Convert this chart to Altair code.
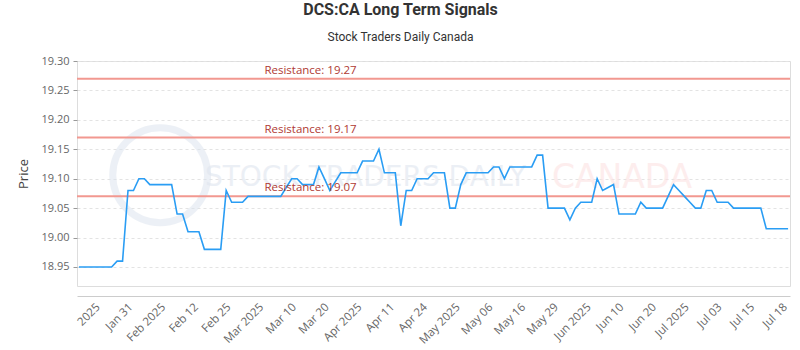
import altair as alt
import pandas as pd

# ---- data -------------------------------------------------------------
prices = [
    18.95, 18.95, 18.95, 18.95, 18.95, 18.95, 18.95,
    18.96, 18.96,
    19.08, 19.08,
    19.10, 19.10,
    19.09, 19.09, 19.09, 19.09, 19.09,
    19.04, 19.04,
    19.01, 19.01, 19.01,
    18.98, 18.98, 18.98, 18.98,
    19.08,
    19.06, 19.06, 19.06,
    19.07, 19.07, 19.07, 19.07, 19.07, 19.07, 19.07,
    19.085,
    19.10, 19.10,
    19.09, 19.09, 19.09,
    19.12, 19.10, 19.08, 19.095,
    19.11, 19.11, 19.11, 19.11,
    19.13, 19.13, 19.13,
    19.15,
    19.11, 19.11, 19.11,
    19.02,
    19.08, 19.08,
    19.10, 19.10, 19.10,
    19.11, 19.11, 19.11,
    19.05, 19.05,
    19.09,
    19.11, 19.11, 19.11, 19.11, 19.11,
    19.12, 19.12,
    19.10,
    19.12, 19.12, 19.12, 19.12, 19.12,
    19.14, 19.14,
    19.05, 19.05, 19.05, 19.05,
    19.03,
    19.05,
    19.06, 19.06, 19.06,
    19.10, 19.08, 19.085, 19.09,
    19.04, 19.04, 19.04, 19.04,
    19.06,
    19.05, 19.05, 19.05, 19.05,
    19.07, 19.09, 19.08, 19.07, 19.06,
    19.05, 19.05,
    19.08, 19.08,
    19.06, 19.06, 19.06,
    19.05, 19.05, 19.05, 19.05, 19.05, 19.05,
    19.015, 19.015, 19.015, 19.015, 19.015,
]

tick_labels = ["2025", "Jan 31", "Feb 2025", "Feb 12", "Feb 25", "Mar 2025",
               "Mar 10", "Mar 20", "Apr 2025", "Apr 11", "Apr 24", "May 2025",
               "May 06", "May 16", "May 29", "Jun 2025", "Jun 10", "Jun 20",
               "Jul 2025", "Jul 03", "Jul 15", "Jul 18"]
tick_index = [4, 10, 16, 22, 28, 34, 40, 46, 52, 58, 64, 70, 76, 82, 88, 94,
              100, 106, 112, 118, 124, 130]
y_ticks = [18.95, 19.00, 19.05, 19.10, 19.15, 19.20, 19.25, 19.30]

resistance = [19.27, 19.17, 19.07]
resistance_labels = ["Resistance: 19.27", "Resistance: 19.17", "Resistance: 19.07"]

df = pd.DataFrame({"i": list(range(len(prices))), "price": prices})
res_df = pd.DataFrame({"level": resistance, "label": resistance_labels,
                       "xx": [34.0, 34.0, 34.0]})

label_js = "[" + ",".join("'%s'" % t for t in tick_labels) + "]"

x_scale = alt.Scale(domain=[-0.35, 130.35], nice=False, zero=False)
y_scale = alt.Scale(domain=[18.9177, 19.30], nice=False, zero=False)

FONT = "Open Sans"

x_axis = alt.Axis(
    values=tick_index,
    labelExpr=label_js + "[round((datum.value-4)/6)]",
    labelAngle=-45, labelAlign="right", labelBaseline="top",
    labelFontSize=11.5, labelColor="#666666", labelFont=FONT,
    labelPadding=5, labelOffset=-7, offset=10, ticks=False,
    domainColor="#cccccc", domainWidth=1, grid=False, title=None,
    labelOverlap=False, labelFlush=False, labelBound=False,
)
y_axis = alt.Axis(
    values=y_ticks,
    format=".2f", labelFontSize=11, labelColor="#666666", labelFont=FONT,
    tickSize=4, tickColor="#999999", domain=False,
    grid=True, gridColor="#e3e3e3", gridDash=[3, 3],
    title="Price", titleFont=FONT, titleFontSize=13, titleFontWeight="normal",
    titleColor="#444444", titlePadding=10, labelPadding=4,
    labelOverlap=False, labelBound=False, labelFlush=False,
)

X = lambda f: alt.X(f, scale=x_scale, axis=x_axis)
Y = lambda f: alt.Y(f, scale=y_scale, axis=y_axis)

watermark_df = pd.DataFrame({
    "i": [23.1, 86.7], "price": [19.101, 19.101],
    "t": ["STOCK TRADERS DAILY", "CANADA"], "c": ["#dfe6ef", "#fde2e2"],
    "fs": [28, 33],
})
watermark = alt.Chart(watermark_df).mark_text(
    font="DejaVu Sans", opacity=0.6, align="left", baseline="middle"
).encode(
    x=X("i:Q"), y=Y("price:Q"),
    text="t:N", color=alt.Color("c:N", scale=None),
    size=alt.Size("fs:Q", scale=None, legend=None),
)
logo_df = pd.DataFrame({"i": [14.9], "price": [19.106]})
logo = alt.Chart(logo_df).mark_point(
    shape="circle", size=9000, strokeWidth=7, color="#dbe3ee", opacity=0.5, filled=False
).encode(x=X("i:Q"), y=Y("price:Q"))

line = alt.Chart(df).mark_line(color="#2a9df4", strokeWidth=1.6).encode(
    x=X("i:Q"), y=Y("price:Q"),
)

rules = alt.Chart(res_df).mark_rule(color="#f29890", strokeWidth=2).encode(
    y=Y("level:Q")
)
rule_text = alt.Chart(res_df).mark_text(
    align="left", baseline="bottom", dy=-3, fontSize=11.5, font=FONT, color="#b03a33"
).encode(
    x=X("xx:Q"), y=Y("level:Q"), text="label:N",
)

chart = alt.layer(logo, watermark, rules, line, rule_text).properties(
    width=713, height=225,
    title=alt.TitleParams(
        text="DCS:CA Long Term Signals",
        subtitle="Stock Traders Daily Canada",
        font="Roboto", fontSize=16, fontWeight="bold", color="#333333",
        subtitleFont="Roboto", subtitleFontSize=12, subtitleColor="#333333",
        subtitlePadding=14, anchor="middle", dx=-33, offset=12,
    ),
    autosize=alt.AutoSizeParams(type="none"),
    padding={"left": 77, "top": 61, "right": 10, "bottom": 64},
).configure_view(stroke="#888888", strokeWidth=1).configure(background="white")

chart.save("out.html", embed_options={"renderer": "svg", "actions": False})
